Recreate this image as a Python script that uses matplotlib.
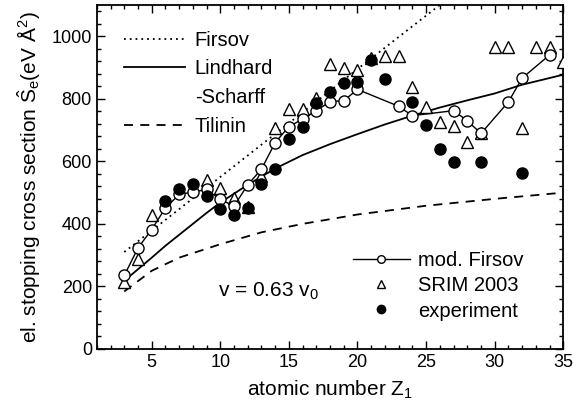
import numpy as np
import matplotlib.pyplot as plt
from matplotlib.lines import Line2D
from matplotlib.ticker import MultipleLocator

plt.rcParams['font.family'] = ['Liberation Sans', 'DejaVu Sans']
plt.rcParams['mathtext.fontset'] = 'custom'
plt.rcParams['mathtext.rm'] = 'Liberation Sans'
plt.rcParams['mathtext.it'] = 'Liberation Sans:italic'

# mod. Firsov (open circles + line)
z_mod = [3, 4, 5, 6, 7, 8, 9, 10, 11, 12, 13, 14, 15, 16, 17, 18, 19, 20, 23, 24, 27, 28, 29, 31, 32, 34]
s_mod = [235, 323, 382, 451, 494, 502, 510, 478, 457, 525, 575, 660, 711, 735, 762, 791, 794, 830,
         776, 746, 762, 730, 689, 790, 866, 940]

# SRIM 2003 (open triangles)
z_srim = [3, 4, 5, 9, 10, 11, 12, 13, 14, 15, 16, 17, 18, 19, 20, 21, 22, 23, 24, 25, 26, 27, 28,
          29, 30, 31, 32, 33, 34, 35]
s_srim = [213, 288, 430, 540, 515, 484, 455, 553, 708, 767, 767, 802, 912, 898, 893, 930, 938, 938,
          837, 773, 727, 714, 662, 692, 967, 967, 708, 967, 967, 918]

# experiment (filled circles)
z_exp = [6, 7, 8, 9, 10, 11, 12, 13, 14, 15, 16, 17, 18, 19, 20, 21, 22, 24, 25, 26, 27, 29, 32]
s_exp = [473, 513, 527, 489, 448, 427, 450, 527, 577, 671, 711, 787, 821, 851, 853, 925, 864, 791,
         716, 639, 598, 598, 562]

# theory curves
z_firsov = [3, 10, 15, 20, 26]
s_firsov = [310, 550, 722, 895, 1100]

z_ls = [3, 4, 5, 6, 7, 8, 9, 10, 12, 14, 16, 18, 20, 22, 24, 26, 28, 30, 32, 35]
s_ls = [218, 255, 292, 330, 365, 400, 435, 468, 525, 577, 620, 655, 687, 718, 746, 772, 795, 817,
        845, 877]

z_til = [3, 5, 7, 10, 13, 16, 20, 25, 30, 35]
s_til = [184, 250, 292, 335, 373, 400, 430, 458, 480, 500]

fig = plt.figure(figsize=(5.73, 4.13), dpi=100)
ax = fig.add_axes([0.169, 0.155, 0.814, 0.833])

ax.plot(z_firsov, s_firsov, color='black', linestyle=(0, (1, 2.2)), linewidth=1.3)
ax.plot(z_ls, s_ls, color='black', linestyle='-', linewidth=1.3)
ax.plot(z_til, s_til, color='black', linestyle=(0, (5, 4)), linewidth=1.3)

ax.plot(z_srim, s_srim, linestyle='none', marker='^', markersize=8.5, markerfacecolor='white',
        markeredgecolor='black', markeredgewidth=1.0, zorder=3)
ax.plot(z_mod, s_mod, color='black', linewidth=1.0, marker='o', markersize=8,
        markerfacecolor='white', markeredgecolor='black', markeredgewidth=1.0, zorder=4)
ax.plot(z_exp, s_exp, linestyle='none', marker='o', markersize=8, color='black', zorder=5)

ax.set_xlim(1, 35)
ax.set_ylim(0, 1100)
ax.xaxis.set_major_locator(MultipleLocator(5))
ax.xaxis.set_minor_locator(MultipleLocator(1))
ax.yaxis.set_major_locator(MultipleLocator(200))
ax.yaxis.set_minor_locator(MultipleLocator(40))
ax.tick_params(which='both', direction='in', top=True, right=True, labelsize=13, width=1.0)
ax.tick_params(which='major', length=6)
ax.tick_params(which='minor', length=3)
for sp in ax.spines.values():
    sp.set_linewidth(1.3)

ax.set_xlabel('atomic number Z$_1$', fontsize=15, labelpad=6)
ax.set_ylabel(r'el. stopping cross section $\hat{\mathrm{S}}_\mathrm{e}$(eV Å$^2$)', fontsize=15, labelpad=6)

ax.text(0.26, 0.152, 'v = 0.63 v$_0$', transform=ax.transAxes, fontsize=15)

h1 = [Line2D([], [], color='black', linestyle=(0, (1, 2.2)), linewidth=1.3),
      Line2D([], [], color='black', linestyle='-', linewidth=1.3),
      Line2D([], [], color='none'),
      Line2D([], [], color='black', linestyle=(0, (5, 4)), linewidth=1.3)]
leg1 = ax.legend(h1, ['Firsov', 'Lindhard', '-Scharff', 'Tilinin'], loc='upper left',
                 bbox_to_anchor=(0.02, 0.978), frameon=False, fontsize=14.5, handlelength=3.0,
                 handletextpad=0.5, labelspacing=0.48)
ax.add_artist(leg1)

h2 = [Line2D([], [], color='black', linewidth=1.0, marker='o', markersize=5.5,
             markerfacecolor='white', markeredgewidth=1.0),
      Line2D([], [], linestyle='none', marker='^', markersize=6, markerfacecolor='white',
             markeredgecolor='black', markeredgewidth=1.0),
      Line2D([], [], linestyle='none', marker='o', markersize=6, color='black')]
ax.legend(h2, ['mod. Firsov', 'SRIM 2003', 'experiment'], loc='lower right',
          bbox_to_anchor=(0.953, 0.03), frameon=False, fontsize=14.5, handlelength=2.8,
          handletextpad=0.4, labelspacing=0.3)

fig.savefig('out.png', dpi=100)
